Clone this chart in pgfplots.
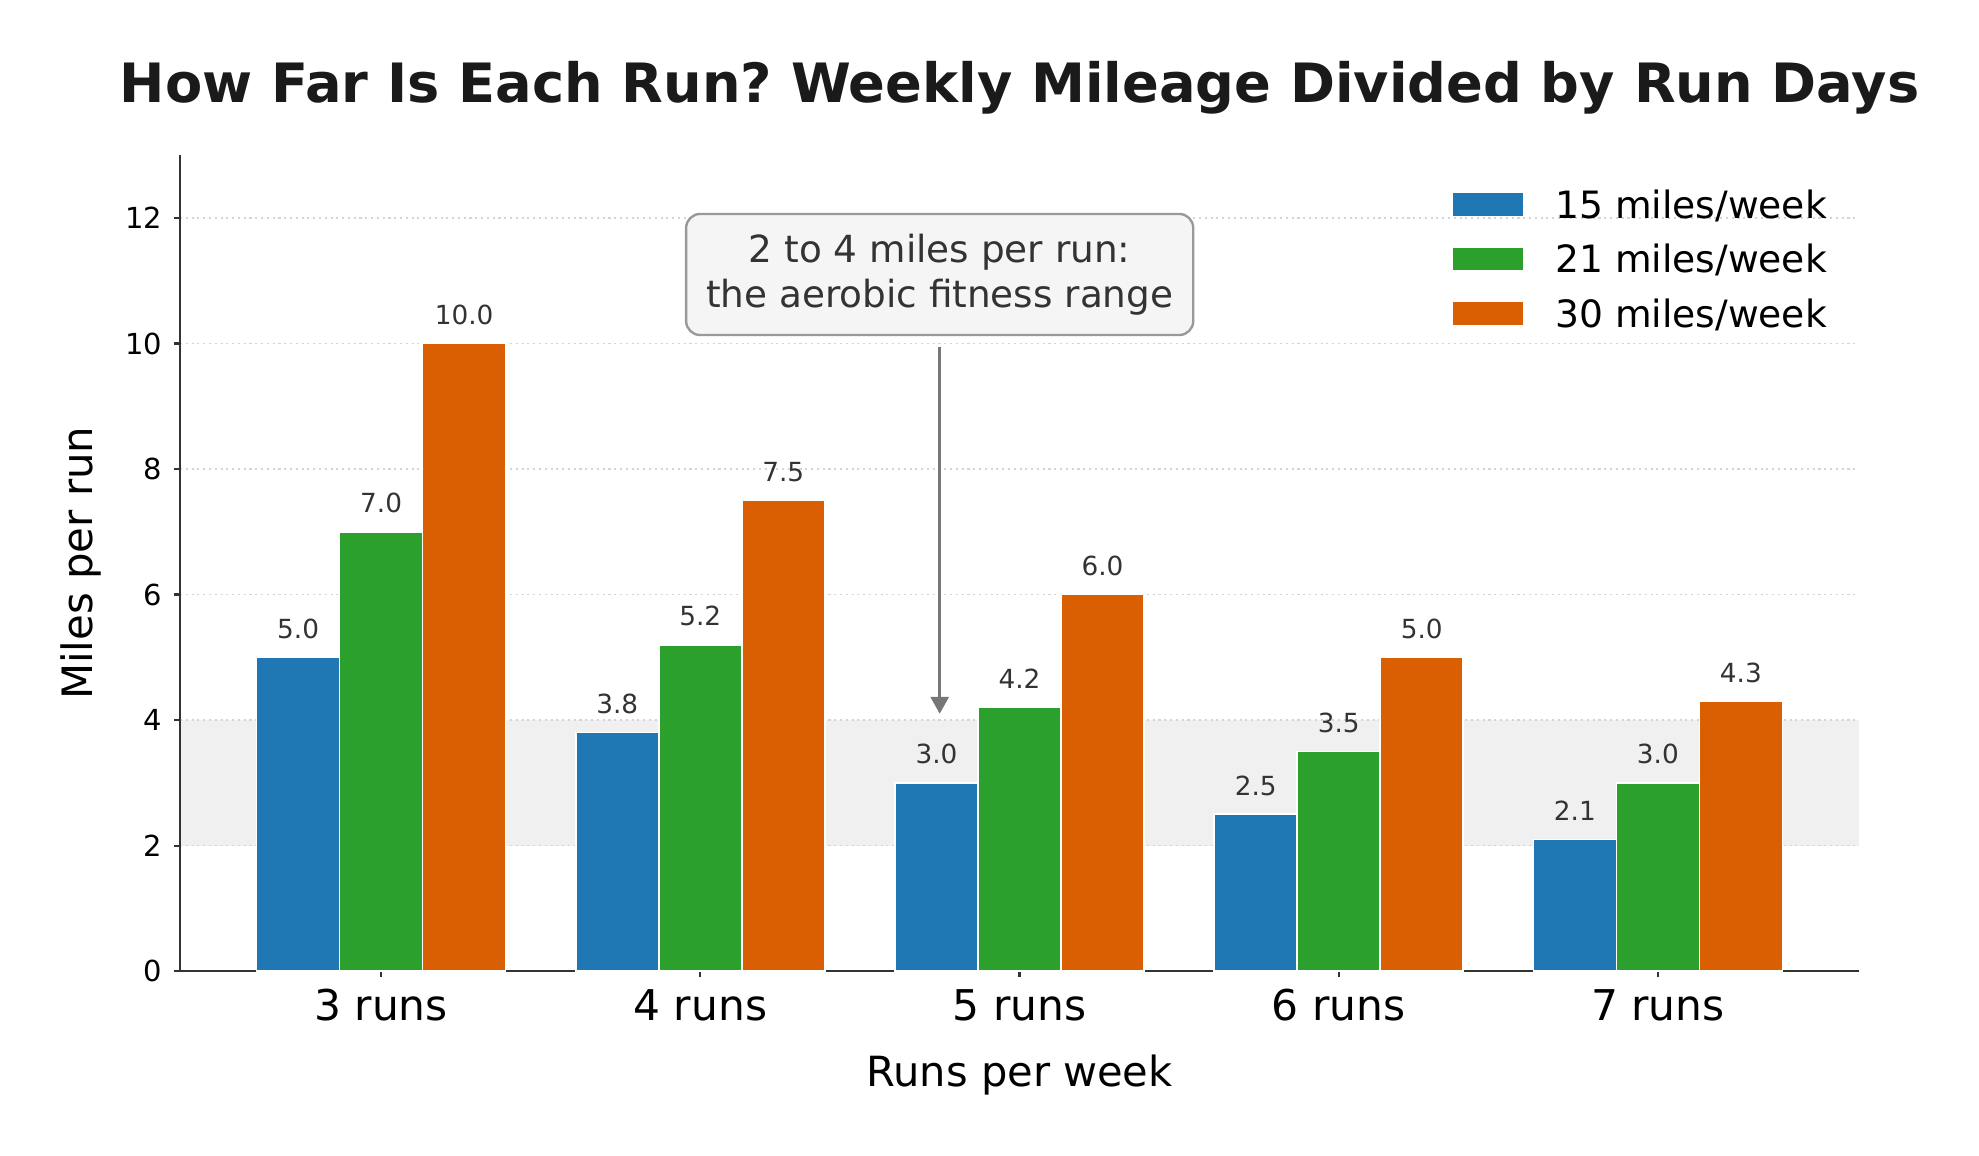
\documentclass[border=0pt]{standalone}
\usepackage{fontspec}
\setmainfont{DejaVu Sans}
\usepackage{pgfplots}
\usepackage{pgfplotstable}
\pgfplotsset{compat=1.18}
\usetikzlibrary{arrows.meta}
\frenchspacing

\definecolor{runblue}{HTML}{1F77B4}
\definecolor{rungreen}{HTML}{2CA02C}
\definecolor{runorange}{HTML}{D95F02}
\definecolor{bandgray}{HTML}{F0F0F0}
\definecolor{gridgray}{HTML}{D4D4D4}
\definecolor{spine}{HTML}{333333}
\definecolor{labeltext}{HTML}{333333}
\definecolor{titletext}{HTML}{1A1A1A}
\definecolor{boxfill}{HTML}{F5F5F5}
\definecolor{boxedge}{HTML}{999999}
\definecolor{arrowgray}{HTML}{777777}

% miles per run for each weekly total (columns) and number of runs (rows)
\pgfplotstableread{
idx w15 w21 w30
0   5.0 7.0 10.0
1   3.8 5.2 7.5
2   3.0 4.2 6.0
3   2.5 3.5 5.0
4   2.1 3.0 4.3
}\perrun

% one x unit = 638pt / 5.26
\def\groupstep{31.54pt}

\pgfplotsset{
  runpatch/.style={legend image code/.code={%
      \fill[##1] (0pt,-4.55pt) rectangle (27.4pt,4.55pt);
      \path (39.0pt,0pt);}},
  runbar/.style={ybar, bar width=0.26, draw=white, line width=0.6pt, runpatch,
    nodes near coords={\pgfmathprintnumber[fixed,fixed zerofill,precision=1]{\pgfplotspointmeta}}},
}

\begin{document}
\begin{tikzpicture}
\begin{axis}[
  at={(0,0)}, anchor=south west,
  set layers,
  scale only axis, width=638pt, height=310pt,
  xmin=-0.63, xmax=4.63, ymin=0, ymax=13,
  axis lines=left,
  axis line style={-, line width=0.8pt, draw=spine},
  tick align=outside, major tick length=2.3pt,
  tick style={line width=0.8pt, draw=spine},
  xtick={0,...,4},
  xticklabels={3 runs,4 runs,5 runs,6 runs,7 runs},
  ytick={0,2,...,12},
  ymajorgrids,
  grid style={draw=gridgray, line width=0.45pt, dash pattern=on 0.8pt off 1.4pt},
  /pgf/number format/assume math mode=true,
  yticklabel style={font=\fontsize{11}{13}\selectfont, inner sep=0pt, anchor=east, xshift=-4.2pt},
  xticklabel style={font=\fontsize{16.1}{19}\selectfont, inner sep=0pt, anchor=base, yshift=-16.3pt},
  title={How Far Is Each Run? Weekly Mileage Divided by Run Days},
  title style={at={(rel axis cs:0.5,1)}, anchor=base, yshift=14.2pt,
    font=\bfseries\fontsize{20.6}{24}\selectfont, text=titletext},
  xlabel={Runs per week},
  xlabel style={at={(rel axis cs:0.5,0)}, anchor=base, yshift=-43.7pt,
    font=\fontsize{15.8}{19}\selectfont},
  ylabel={Miles per run},
  ylabel style={at={(rel axis cs:0,0.5)}, anchor=base, yshift=33.4pt,
    font=\fontsize{15.9}{19}\selectfont},
  legend style={draw=none, fill=none, at={(rel axis cs:0.757,0.963)},
    anchor=north west, inner sep=0pt, outer sep=0pt, row sep=6.3pt,
    font=\fontsize{14.3}{17}\selectfont,
    nodes={inner sep=0pt, text height=12.4pt, text depth=2pt}},
  legend cell align=left,
  every node near coord/.append style={font=\fontsize{10}{12}\selectfont,
    text=labeltext, anchor=base, inner sep=0pt, yshift=7.2pt},
]

% shaded 2-4 mile band
\addplot[on layer=axis background, draw=none, fill=bandgray, forget plot]
  coordinates {(-0.63,2) (4.63,2) (4.63,4) (-0.63,4)} -- cycle;

\addplot[runbar, bar shift=-0.26, fill=runblue,
  every node near coord/.append style={xshift=-\groupstep}]
  table[x=idx, y=w15] {\perrun};
\addlegendentry{15 miles/week}

\addplot[runbar, bar shift=0, fill=rungreen]
  table[x=idx, y=w21] {\perrun};
\addlegendentry{21 miles/week}

\addplot[runbar, bar shift=0.26, fill=runorange,
  every node near coord/.append style={xshift=\groupstep}]
  table[x=idx, y=w30] {\perrun};
\addlegendentry{30 miles/week}

% callout for the aerobic range
\draw[arrowgray, line width=1.1pt, -{Triangle[width=6.8pt,length=6.4pt]}]
  (axis cs:1.75,9.95) -- (axis cs:1.75,4.1);
\node[fill=boxfill, draw=boxedge, line width=0.9pt, rounded corners=5.3pt,
  minimum width=192.7pt, minimum height=46pt, align=center, text=labeltext,
  font=\fontsize{14.2}{17.1}\selectfont, inner sep=0pt]
  at (axis cs:1.75,11.1) {2 to 4 miles per run:\\the aerobic fitness range};
\end{axis}
\pgfresetboundingbox
\path (-68.4pt,-69.9pt) rectangle (683.6pt,369.0pt);
\end{tikzpicture}
\end{document}
